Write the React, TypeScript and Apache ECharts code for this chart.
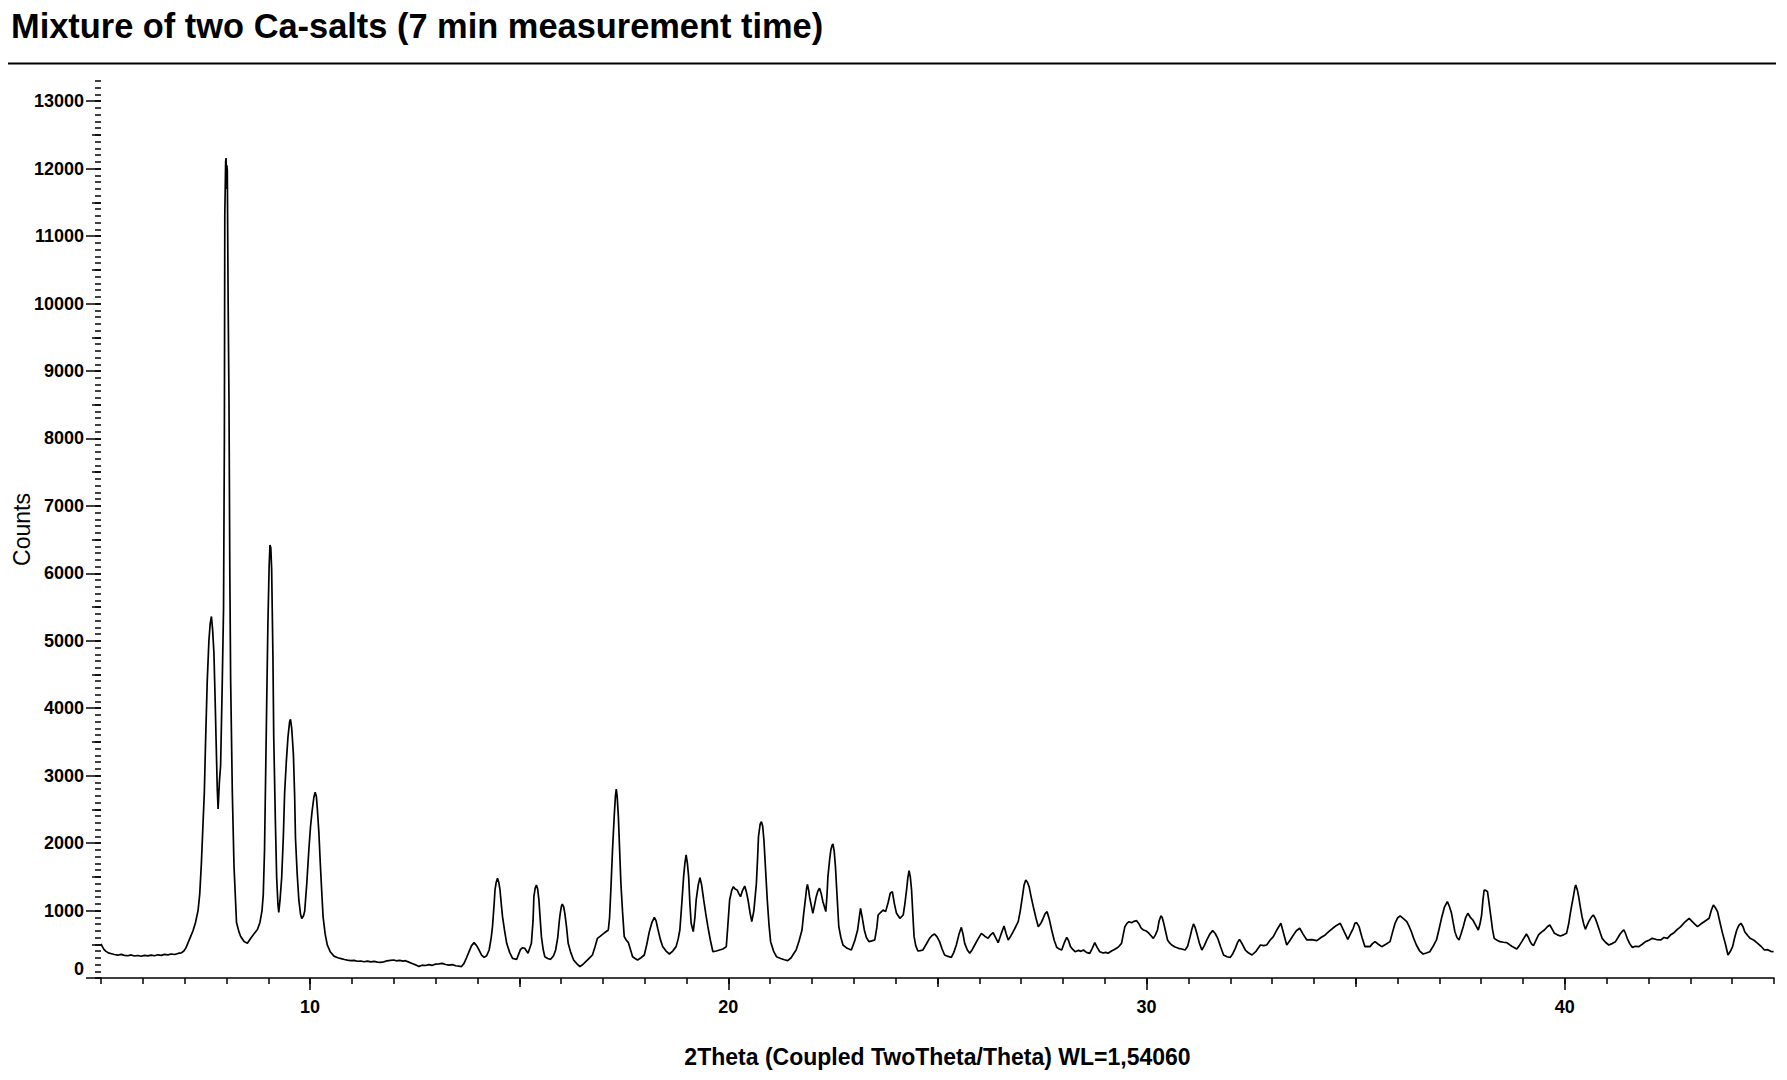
import React, { useEffect, useRef } from "react";
import * as echarts from "echarts";

const titleText = "Mixture of two Ca-salts (7 min measurement time)";
const xAxisTitle = "2Theta (Coupled TwoTheta/Theta) WL=1,54060";
const yAxisTitle = "Counts";

const xMajorTicks = [10, 20, 30, 40];
const xMediumTicks = [15, 25, 35];
const yMajorTicks = [0, 1000, 2000, 3000, 4000, 5000, 6000, 7000, 8000, 9000, 10000, 11000, 12000, 13000];
const yLabelTicks = [1000, 2000, 3000, 4000, 5000, 6000, 7000, 8000, 9000, 10000, 11000, 12000, 13000];
const yMediumTicks = [500, 1500, 2500, 3500, 4500, 5500, 6500, 7500, 8500, 9500, 10500, 11500, 12500];
const yZeroLabel = [0];

// [2Theta (deg), counts]
const lowAngleScan: [number, number][] = [
  [5.0, 505], [5.03, 470], [5.07, 425], [5.12, 395], [5.18, 372], [5.25, 360], [5.32, 348], [5.4, 338],
  [5.48, 350], [5.56, 336], [5.64, 330], [5.72, 342], [5.8, 326], [5.88, 334], [5.96, 322], [6.04, 336],
  [6.12, 328], [6.2, 340], [6.28, 330], [6.36, 344], [6.44, 336], [6.52, 350], [6.6, 342], [6.68, 356],
  [6.76, 348], [6.84, 364], [6.92, 372], [6.98, 400], [7.03, 445], [7.08, 520], [7.14, 610], [7.2, 700],
  [7.26, 824], [7.32, 1000], [7.36, 1240], [7.4, 1700], [7.44, 2300], [7.47, 2738], [7.5, 3500], [7.54, 4402],
  [7.58, 5000], [7.61, 5250], [7.64, 5360], [7.67, 5150], [7.7, 4818], [7.73, 4100], [7.75, 3570], [7.78, 2800],
  [7.8, 2505], [7.83, 2900], [7.86, 3154], [7.9, 4402], [7.93, 5484], [7.95, 8000], [7.96, 11309], [7.98, 12100],
  [7.99, 12158], [8.0, 11700], [8.01, 12050], [8.02, 11975], [8.04, 10000], [8.06, 8563], [8.08, 6000], [8.1, 4402],
  [8.14, 2738], [8.18, 1656], [8.24, 824], [8.3, 680], [8.34, 616], [8.42, 540], [8.5, 516], [8.58, 590],
  [8.66, 657], [8.74, 720], [8.8, 824], [8.85, 1000], [8.88, 1240], [8.91, 1900], [8.93, 2738], [8.96, 4000],
  [8.99, 5234], [9.02, 6100], [9.04, 6420], [9.06, 6380], [9.08, 6066], [9.11, 4800], [9.13, 3570], [9.17, 2300],
  [9.2, 1490], [9.23, 1100], [9.25, 973], [9.28, 1150], [9.32, 1490], [9.36, 2100], [9.39, 2738], [9.43, 3200],
  [9.47, 3570], [9.51, 3800], [9.53, 3836], [9.56, 3700], [9.6, 3320], [9.63, 2700], [9.65, 2072], [9.69, 1550],
  [9.73, 1157], [9.77, 950], [9.8, 882], [9.84, 920], [9.87, 990], [9.92, 1400], [9.97, 1905], [10.01, 2250],
  [10.05, 2488], [10.09, 2680], [10.12, 2754], [10.15, 2690], [10.17, 2530], [10.21, 2150], [10.24, 1739], [10.28, 1250],
  [10.31, 907], [10.36, 650], [10.41, 491], [10.48, 390], [10.57, 324], [10.66, 300], [10.74, 288], [10.82, 274],
  [10.89, 266], [10.97, 258], [11.05, 262], [11.13, 248], [11.21, 252], [11.29, 241], [11.37, 250], [11.45, 238],
  [11.53, 246], [11.61, 236], [11.68, 232],
];

const midAngleScan: [number, number][] = [
  [11.76, 240], [11.84, 255], [11.92, 262], [12.0, 267], [12.06, 255], [12.14, 262], [12.22, 250], [12.28, 257],
  [12.36, 235], [12.44, 215], [12.52, 195], [12.6, 172], [12.68, 190], [12.76, 185], [12.84, 198], [12.92, 188],
  [13.0, 205], [13.08, 210], [13.16, 217], [13.24, 200], [13.32, 190], [13.4, 198], [13.48, 182], [13.56, 175],
  [13.62, 170], [13.68, 217], [13.74, 300], [13.8, 390], [13.86, 480], [13.92, 524], [13.98, 480], [14.04, 415],
  [14.1, 340], [14.16, 306], [14.22, 330], [14.28, 415], [14.33, 600], [14.36, 761], [14.4, 1100], [14.42, 1305],
  [14.45, 1420], [14.48, 1478], [14.51, 1420], [14.54, 1305], [14.57, 1100], [14.6, 910], [14.65, 700], [14.7, 514],
  [14.77, 380], [14.84, 292], [14.94, 277], [15.03, 425], [15.08, 448], [15.13, 440], [15.21, 366], [15.29, 514],
  [15.33, 850], [15.35, 1206], [15.38, 1330], [15.41, 1379], [15.44, 1320], [15.47, 1157], [15.5, 880], [15.53, 613],
  [15.57, 430], [15.61, 316], [15.68, 290], [15.75, 277], [15.82, 330], [15.87, 415], [15.92, 600], [15.96, 860],
  [15.98, 959], [16.01, 1070], [16.03, 1097], [16.06, 1060], [16.09, 959], [16.13, 760], [16.17, 514], [16.23, 380],
  [16.3, 267], [16.38, 210], [16.45, 168], [16.52, 200], [16.59, 242], [16.67, 290], [16.75, 341], [16.81, 460],
  [16.87, 588], [16.94, 620], [17.02, 662], [17.08, 690], [17.13, 712], [17.16, 900], [17.19, 1305], [17.23, 1900],
  [17.27, 2392], [17.3, 2700], [17.32, 2800], [17.34, 2700], [17.37, 2392], [17.4, 1900], [17.43, 1404], [17.47, 980],
  [17.51, 613], [17.56, 560], [17.61, 524], [17.66, 420], [17.71, 316], [17.77, 290], [17.83, 267], [17.91, 300],
  [17.99, 341], [18.05, 500], [18.11, 687], [18.17, 820], [18.23, 900], [18.27, 850], [18.31, 737], [18.37, 580],
  [18.43, 465], [18.51, 400], [18.59, 356], [18.67, 400], [18.75, 465], [18.8, 580], [18.84, 712], [18.88, 1050],
  [18.93, 1503], [18.96, 1700], [18.99, 1824], [19.02, 1700], [19.05, 1503], [19.08, 1100], [19.11, 811], [19.16, 687],
  [19.2, 900], [19.23, 1157], [19.28, 1380], [19.32, 1488], [19.36, 1380], [19.41, 1157], [19.46, 950], [19.51, 761],
  [19.57, 560], [19.63, 390], [19.71, 400], [19.79, 415], [19.87, 430], [19.95, 465], [19.99, 800], [20.03, 1157],
  [20.08, 1300], [20.12, 1354], [20.16, 1320], [20.21, 1305], [20.25, 1250], [20.29, 1206], [20.34, 1300], [20.39, 1364],
  [20.43, 1280], [20.47, 1157], [20.52, 960], [20.56, 835], [20.61, 1000], [20.67, 1404], [20.7, 1800], [20.72, 2096],
  [20.76, 2280], [20.79, 2318], [20.82, 2250], [20.85, 2046], [20.89, 1600], [20.93, 1157], [20.97, 800], [21.01, 539],
  [21.08, 400], [21.15, 316], [21.25, 290], [21.34, 270], [21.42, 257], [21.5, 300], [21.56, 360], [21.62, 415],
  [21.69, 550], [21.76, 712], [21.8, 950], [21.84, 1157], [21.87, 1330], [21.89, 1389], [21.92, 1300], [21.94, 1206],
  [21.98, 1080], [22.02, 959], [22.06, 1080], [22.1, 1206], [22.14, 1290], [22.18, 1330], [22.22, 1250], [22.26, 1132],
  [22.3, 1050], [22.33, 984], [22.36, 1250], [22.38, 1503], [22.42, 1750], [22.45, 1898], [22.48, 1970], [22.5, 1987],
  [22.53, 1880], [22.56, 1651], [22.6, 1200], [22.64, 761], [22.69, 600], [22.74, 489], [22.84, 440], [22.94, 415],
  [23.02, 550], [23.09, 712], [23.13, 900], [23.16, 1033], [23.2, 900], [23.25, 712], [23.3, 600], [23.36, 539],
  [23.43, 550], [23.5, 564], [23.55, 750], [23.58, 934], [23.66, 984],
];

const highAngleScan: [number, number][] = [
  [23.7, 1008], [23.76, 984], [23.82, 1120], [23.87, 1256], [23.92, 1280], [23.97, 1100], [24.02, 959], [24.1, 885],
  [24.18, 934], [24.22, 1100], [24.26, 1305], [24.29, 1480], [24.32, 1592], [24.35, 1500], [24.38, 1305], [24.41, 950],
  [24.44, 613], [24.48, 480], [24.53, 400], [24.59, 405], [24.65, 415], [24.73, 500], [24.81, 588], [24.87, 630],
  [24.93, 652], [24.99, 610], [25.05, 539], [25.11, 430], [25.17, 341], [25.25, 320], [25.33, 306], [25.39, 380],
  [25.45, 489], [25.51, 640], [25.57, 751], [25.61, 650], [25.65, 514], [25.71, 420], [25.77, 366], [25.83, 420],
  [25.89, 489], [25.97, 580], [26.05, 662], [26.13, 620], [26.21, 588], [26.27, 640], [26.33, 672], [26.39, 600],
  [26.45, 524], [26.52, 650], [26.59, 771], [26.64, 660], [26.69, 564], [26.75, 620], [26.81, 687], [26.87, 760],
  [26.93, 835], [26.98, 1000], [27.03, 1206], [27.07, 1380], [27.11, 1453], [27.15, 1420], [27.19, 1354], [27.24, 1200],
  [27.29, 1058], [27.35, 900], [27.41, 761], [27.46, 800], [27.51, 860], [27.57, 950], [27.62, 984], [27.67, 880],
  [27.73, 712], [27.79, 560], [27.85, 455], [27.91, 430], [27.97, 415], [28.03, 520], [28.09, 603], [28.13, 560],
  [28.18, 465], [28.24, 420], [28.29, 390], [28.37, 410], [28.43, 395], [28.49, 415], [28.56, 380], [28.64, 366],
  [28.7, 440], [28.76, 524], [28.82, 450], [28.88, 390], [28.96, 370], [29.02, 380], [29.08, 366], [29.16, 400],
  [29.22, 420], [29.28, 440], [29.34, 470], [29.4, 514], [29.44, 640], [29.48, 761], [29.53, 810], [29.58, 835],
  [29.64, 820], [29.7, 840], [29.76, 850], [29.82, 800], [29.87, 740], [29.92, 712], [29.98, 700], [30.04, 672],
  [30.1, 630], [30.16, 588], [30.21, 640], [30.26, 712], [30.3, 850], [30.34, 920], [30.37, 900], [30.4, 835],
  [30.45, 700], [30.5, 564], [30.55, 520], [30.6, 489], [30.68, 460], [30.76, 440], [30.84, 430], [30.92, 415],
  [30.98, 470], [31.04, 613], [31.08, 720], [31.12, 801], [31.16, 750], [31.2, 662], [31.26, 520], [31.32, 415],
  [31.38, 480], [31.44, 564], [31.51, 650], [31.58, 702], [31.64, 660], [31.7, 588], [31.77, 460], [31.84, 341],
  [31.92, 315], [32.0, 306], [32.06, 360], [32.12, 440], [32.17, 520], [32.22, 573], [32.29, 500], [32.36, 415],
  [32.44, 370], [32.52, 341], [32.62, 400], [32.72, 489], [32.8, 480], [32.87, 489], [32.95, 560], [33.03, 613],
  [33.12, 720], [33.21, 811], [33.28, 650], [33.35, 489], [33.43, 560], [33.51, 638], [33.58, 700], [33.66, 737],
  [33.74, 650], [33.83, 564], [33.95, 570], [34.07, 554], [34.17, 600], [34.27, 638], [34.36, 690], [34.45, 737],
  [34.54, 780], [34.63, 811], [34.72, 690], [34.81, 573], [34.88, 660], [34.94, 737],
];

const wideAngleScan: [number, number][] = [
  [34.98, 811], [35.02, 821], [35.08, 761], [35.15, 600], [35.22, 465], [35.28, 470], [35.34, 465], [35.4, 510],
  [35.46, 539], [35.54, 500], [35.62, 465], [35.72, 500], [35.82, 539], [35.88, 680], [35.94, 811], [36.0, 890],
  [36.06, 920], [36.14, 880], [36.22, 835], [36.28, 760], [36.33, 687], [36.39, 580], [36.45, 489], [36.53, 400],
  [36.61, 356], [36.69, 370], [36.77, 390], [36.85, 470], [36.93, 564], [36.99, 720], [37.05, 885], [37.12, 1050],
  [37.19, 1132], [37.24, 1060], [37.29, 959], [37.33, 820], [37.37, 687], [37.42, 600], [37.47, 564], [37.52, 660],
  [37.57, 761], [37.63, 900], [37.68, 959], [37.74, 900], [37.8, 860], [37.87, 780], [37.93, 712], [37.97, 800],
  [38.01, 934], [38.04, 1150], [38.07, 1305], [38.11, 1300], [38.15, 1280], [38.19, 1100], [38.23, 910], [38.27, 720],
  [38.31, 588], [38.38, 560], [38.45, 539], [38.53, 530], [38.61, 524], [38.73, 470], [38.85, 430], [38.91, 480],
  [38.97, 539], [39.03, 600], [39.08, 652], [39.13, 600], [39.17, 539], [39.21, 500], [39.25, 480], [39.31, 560],
  [39.37, 638], [39.44, 680], [39.51, 712], [39.58, 760], [39.64, 786], [39.7, 720], [39.75, 662], [39.82, 640],
  [39.89, 623], [39.97, 640], [40.04, 662], [40.09, 800], [40.13, 959], [40.17, 1100], [40.21, 1231], [40.24, 1340],
  [40.26, 1379], [40.3, 1300], [40.33, 1206], [40.37, 1050], [40.41, 910], [40.45, 800], [40.49, 722], [40.53, 780],
  [40.57, 835], [40.63, 900], [40.68, 934], [40.73, 880], [40.77, 811], [40.83, 700], [40.89, 588], [40.97, 530],
  [41.05, 489], [41.13, 510], [41.21, 539], [41.27, 600], [41.32, 652], [41.37, 690], [41.41, 712], [41.45, 660],
  [41.49, 588], [41.55, 510], [41.61, 455], [41.69, 470], [41.77, 465], [41.85, 500], [41.93, 539], [42.01, 560],
  [42.09, 588], [42.19, 570], [42.29, 564], [42.37, 600], [42.45, 588], [42.53, 640], [42.61, 672], [42.69, 720],
  [42.77, 761], [42.87, 830], [42.97, 885], [43.07, 820], [43.17, 761], [43.25, 800], [43.33, 835], [43.39, 860],
  [43.45, 885], [43.5, 1000], [43.55, 1082], [43.6, 1040], [43.65, 984], [43.71, 820], [43.77, 662], [43.84, 500],
  [43.9, 341], [43.96, 400], [44.01, 465], [44.06, 600], [44.11, 712], [44.16, 780], [44.21, 811], [44.26, 760],
  [44.3, 687], [44.37, 630], [44.43, 588], [44.52, 560], [44.61, 514], [44.69, 470], [44.77, 415], [44.85, 420],
  [44.92, 395], [44.99, 390],
];

const FONT = "'Liberation Sans', Arial, Helvetica, sans-serif";
const BLACK = "#000000";

export default function App() {
  const ref = useRef<HTMLDivElement>(null);

  useEffect(() => {
    if (!ref.current) return;
    const chart = echarts.init(ref.current, undefined, { renderer: "svg" });
    const pattern = [...lowAngleScan, ...midAngleScan, ...highAngleScan, ...wideAngleScan];
    const tickStyle = { color: BLACK, width: 1.5 };
    const labelStyle = {
      color: BLACK,
      fontSize: 18,
      fontWeight: "bold" as const,
      fontFamily: FONT,
      formatter: (v: number) => String(v),
    };

    const baseX = {
      type: "value" as const,
      min: 5,
      max: 45,
      position: "bottom" as const,
      offset: 0,
      splitLine: { show: false },
      axisLine: { show: false, onZero: false },
      axisLabel: { show: false },
    };
    const baseY = {
      type: "value" as const,
      min: 0,
      max: 13300,
      position: "left" as const,
      offset: 0,
      splitLine: { show: false },
      axisLine: { show: false, onZero: false },
      axisLabel: { show: false },
    };

    chart.setOption({
      animation: false,
      backgroundColor: "#ffffff",
      grid: {
        left: 101,
        right: 13,
        top: 81,
        bottom: 102,
        containLabel: false,
        outerBoundsMode: "none",
      },
      xAxis: [
        {
          ...baseX,
          interval: 1,
          axisLine: { show: true, onZero: false, lineStyle: { color: BLACK, width: 1.5 } },
          axisTick: { show: true, length: 6, lineStyle: tickStyle },
        },
        {
          ...baseX,
          interval: 5,
          axisTick: { show: true, length: 9, customValues: xMediumTicks, lineStyle: tickStyle },
        },
        {
          ...baseX,
          interval: 5,
          axisTick: { show: true, length: 12, customValues: xMajorTicks, lineStyle: tickStyle },
          axisLabel: { show: true, customValues: xMajorTicks, margin: 20, ...labelStyle },
          name: xAxisTitle,
          nameLocation: "middle",
          nameGap: 67,
          nameMoveOverlap: false,
          nameTextStyle: { color: BLACK, fontSize: 23, fontWeight: "bold", fontFamily: FONT },
        },
      ],
      yAxis: [
        {
          ...baseY,
          interval: 100,
          axisTick: { show: true, length: 6, lineStyle: tickStyle },
        },
        {
          ...baseY,
          interval: 1000,
          axisTick: { show: true, length: 15, customValues: yMajorTicks, lineStyle: tickStyle },
          axisLabel: { show: true, customValues: yLabelTicks, margin: 17, ...labelStyle },
          name: yAxisTitle,
          nameLocation: "middle",
          nameGap: 68,
          nameRotate: 90,
          nameMoveOverlap: false,
          nameTextStyle: { color: BLACK, fontSize: 23, fontFamily: FONT },
        },
        {
          ...baseY,
          interval: 500,
          axisTick: { show: true, length: 9, customValues: yMediumTicks, lineStyle: tickStyle },
          axisLabel: { show: true, customValues: yZeroLabel, margin: 17, verticalAlign: "bottom", ...labelStyle },
        },
      ],
      graphic: [
        {
          type: "text",
          x: 11,
          y: 26,
          style: {
            text: titleText,
            fill: BLACK,
            fontSize: 34.4,
            fontWeight: "bold",
            fontFamily: FONT,
            align: "left",
            verticalAlign: "middle",
          },
        },
        {
          type: "line",
          shape: { x1: 8, y1: 63.5, x2: 1776, y2: 63.5 },
          style: { stroke: BLACK, lineWidth: 2 },
        },
      ],
      series: [
        {
          type: "line",
          name: "Counts",
          xAxisIndex: 0,
          yAxisIndex: 0,
          data: pattern,
          showSymbol: false,
          symbol: "none",
          smooth: false,
          lineStyle: { color: BLACK, width: 1.7 },
          emphasis: { disabled: true },
        },
      ],
    });

    return () => chart.dispose();
  }, []);

  return (
    <div
      ref={ref}
      style={{ position: "fixed", left: 0, top: 0, width: 1787, height: 1080, background: "#fff" }}
    />
  );
}
